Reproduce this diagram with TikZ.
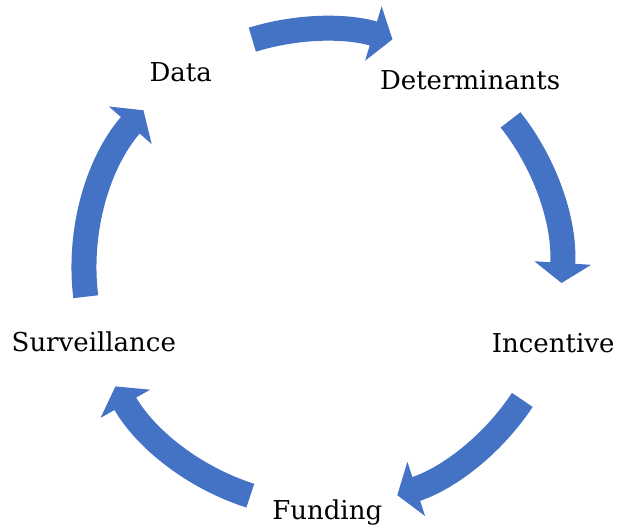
\documentclass[tikz,border=0pt]{standalone}
\usepackage{fontspec}
\setmainfont{DejaVu Serif}
\usepackage{tikz}
\usetikzlibrary{arrows.meta}

\definecolor{cycleblue}{HTML}{4472C4}

\begin{document}
\begin{tikzpicture}[x=1pt,y=1pt,
  stage/.style={inner sep=0pt,text height=19pt,text depth=0pt,
    font=\fontsize{26}{31}\selectfont},
  flow/.style={draw=cycleblue,line width=25pt,line cap=butt,
    -{Triangle[length=20pt,width=56pt]}}]

  \useasboundingbox (0,0) rectangle (618,527);
  \coordinate (hub) at (323,259);

  % Stage 1
  \node [stage] (data) at ([shift={(126:242)}]hub) {Data};
  \coordinate (s1) at ([shift={(107.2:239)}]hub);
  \draw [flow] (s1) arc [start angle=107.2,end angle=73.1,radius=239];

  % Stage 2
  \node [stage] (determinants) at ([shift={(52:239)}]hub) {Determinants};
  \coordinate (s2) at ([shift={(38.3:239)}]hub);
  \draw [flow] (s2) arc [start angle=38.3,end angle=-3.6,radius=239];

  % Stage 3
  \node [stage] (incentive) at ([shift={(-18:242)}]hub) {Incentive};
  \coordinate (s3) at ([shift={(-33.5:239)}]hub);
  \draw [flow] (s3) arc [start angle=-33.5,end angle=-71.9,radius=239];

  % Stage 4
  \node [stage] (funding) at ([shift={(-89:242)}]hub) {Funding};
  \coordinate (s4) at ([shift={(-107.7:239)}]hub);
  \draw [flow] (s4) arc [start angle=-107.7,end angle=-150.3,radius=239];

  % Stage 5
  \node [stage] (surveillance) at ([shift={(198:241)}]hub) {Surveillance};
  \coordinate (s5) at ([shift={(186.9:239)}]hub);
  \draw [flow] (s5) arc [start angle=186.9,end angle=138.7,radius=239];

\end{tikzpicture}
\end{document}
